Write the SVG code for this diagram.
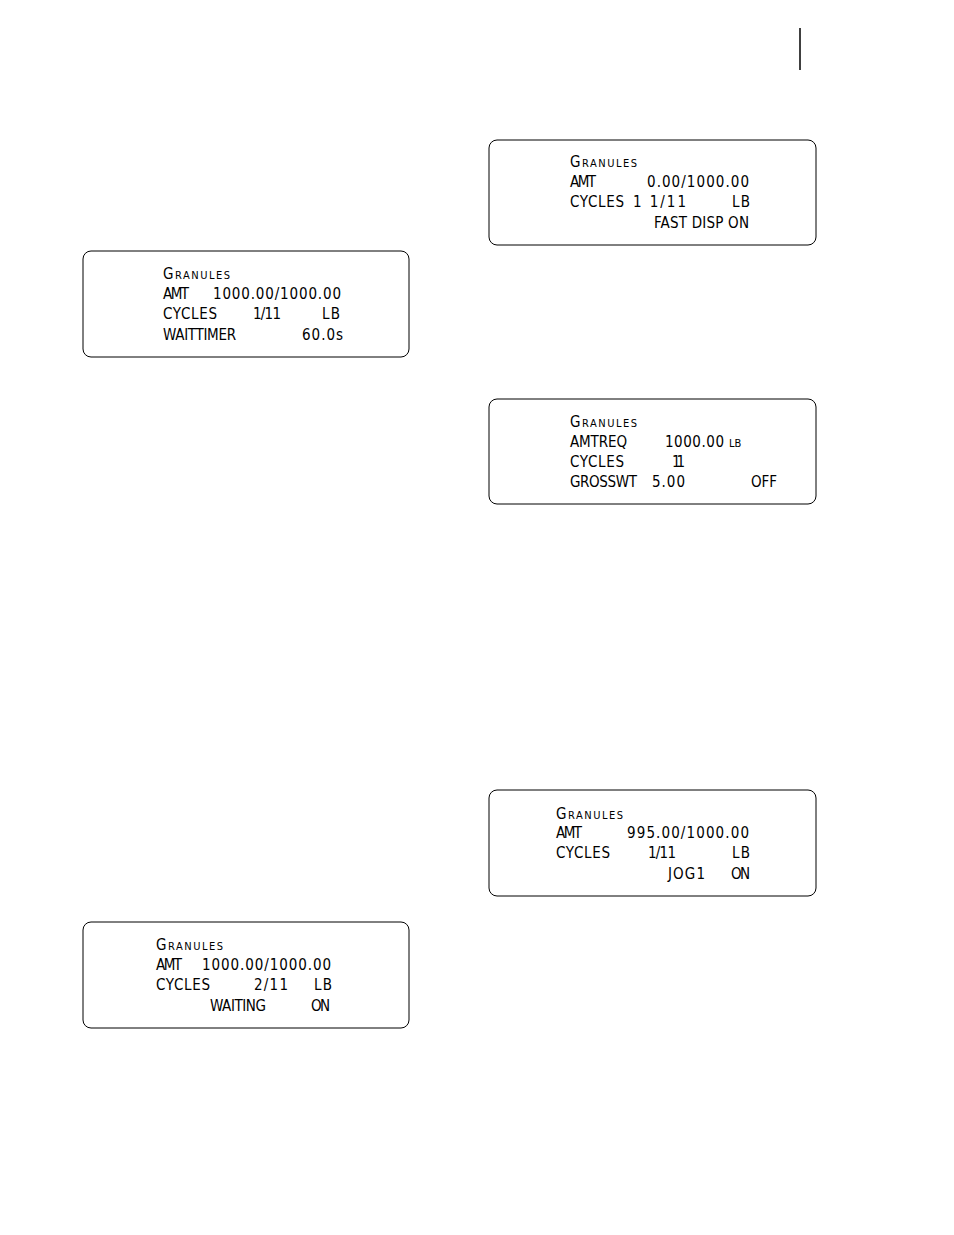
<svg xmlns="http://www.w3.org/2000/svg" width="954" height="1235" viewBox="0 0 954 1235">
<style>
.b{fill:#fff;stroke:#000;stroke-width:1}
text{font-family:"DejaVu Sans Condensed","Liberation Sans",sans-serif;font-size:15px;fill:#000}
.g{font-variant:small-caps}
.s{font-size:11px}
</style>
<rect width="954" height="1235" fill="#fff"/>
<line x1="800" y1="28" x2="800" y2="70" stroke="#000" stroke-width="1.5"/>
<g id="d1"><rect class="b" x="83" y="251" width="326" height="106" rx="8"/>
<text class="g" x="163" y="279" textLength="67">Granules</text>
<text x="163" y="299" textLength="26">AMT</text><text x="213" y="299" textLength="128">1000.00/1000.00</text>
<text x="163" y="319" textLength="54">CYCLES</text><text x="253" y="319" textLength="28">1/11</text><text x="322" y="319" textLength="18">LB</text>
<text x="163" y="340" textLength="73">WAITTIMER</text><text x="302" y="340" textLength="41">60.0s</text></g>
<g id="d2"><rect class="b" x="489" y="140" width="327" height="105" rx="8"/>
<text class="g" x="570" y="167" textLength="67">Granules</text>
<text x="570" y="187" textLength="26">AMT</text><text x="647" y="187" textLength="102">0.00/1000.00</text>
<text x="570" y="207" textLength="54">CYCLES</text><text x="633" y="207" textLength="53">1 1/11</text><text x="732" y="207" textLength="18">LB</text>
<text x="654" y="228" textLength="95">FAST DISP ON</text></g>
<g id="d3"><rect class="b" x="489" y="399" width="327" height="105" rx="8"/>
<text class="g" x="570" y="427" textLength="67">Granules</text>
<text x="570" y="447" textLength="57">AMTREQ</text><text x="665" y="447" textLength="59">1000.00</text><text class="s" x="729" y="447">LB</text>
<text x="570" y="467" textLength="54">CYCLES</text><text x="672" y="467" textLength="13">11</text>
<text x="570" y="487" textLength="67">GROSSWT</text><text x="652" y="487" textLength="33">5.00</text><text x="751" y="487" textLength="26">OFF</text></g>
<g id="d4"><rect class="b" x="489" y="790" width="327" height="106" rx="8"/>
<text class="g" x="556" y="819" textLength="67">Granules</text>
<text x="556" y="838" textLength="26">AMT</text><text x="627" y="838" textLength="122">995.00/1000.00</text>
<text x="556" y="858" textLength="54">CYCLES</text><text x="648" y="858" textLength="28">1/11</text><text x="732" y="858" textLength="18">LB</text>
<text x="668" y="879" textLength="37">JOG1</text><text x="731" y="879" textLength="19">ON</text></g>
<g id="d5"><rect class="b" x="83" y="922" width="326" height="106" rx="8"/>
<text class="g" x="156" y="950" textLength="67">Granules</text>
<text x="156" y="970" textLength="26">AMT</text><text x="202" y="970" textLength="129">1000.00/1000.00</text>
<text x="156" y="990" textLength="54">CYCLES</text><text x="254" y="990" textLength="34">2/11</text><text x="314" y="990" textLength="18">LB</text>
<text x="210" y="1011" textLength="56">WAITING</text><text x="311" y="1011" textLength="19">ON</text></g>
</svg>
